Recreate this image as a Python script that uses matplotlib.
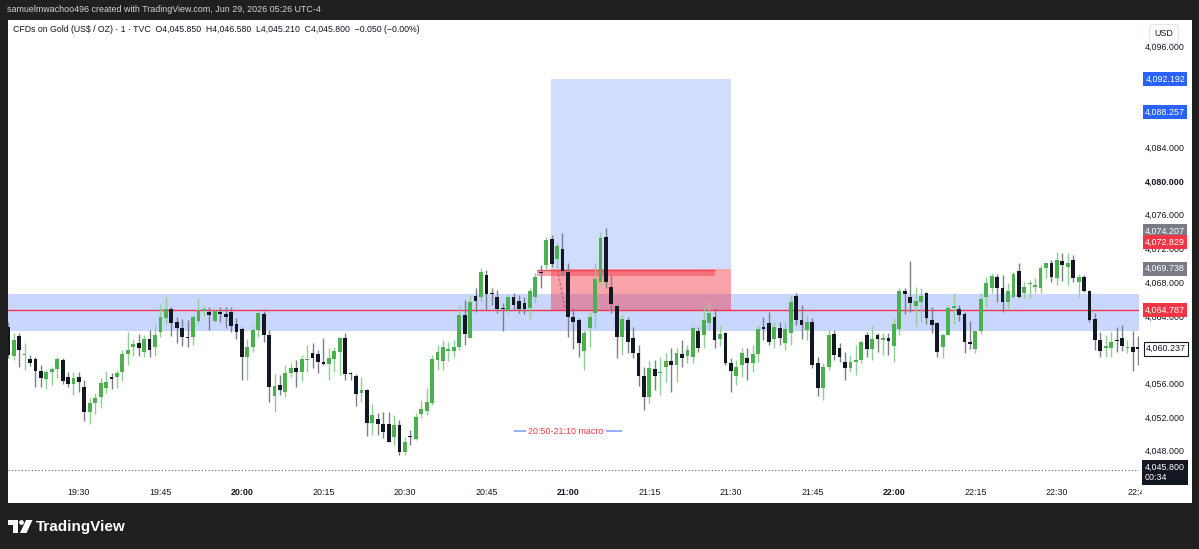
import matplotlib
matplotlib.use("Agg")
import matplotlib.pyplot as plt
from matplotlib.patches import Rectangle, Polygon, Circle
import numpy as np

plt.rcParams['font.family'] = ['Liberation Sans', 'DejaVu Sans']

W, H, DPI = 1199, 549, 100

# ---------------- data (1-minute candles starting 19:17) ----------------
start_hour, start_min = 19, 17
opens = [4062.8, 4059.4, 4061.7, 4059.5, 4059.0, 4059.0, 4057.6, 4056.6, 4057.5, 4057.8,
         4058.9, 4056.9, 4056.0, 4056.9, 4055.7, 4052.7, 4053.8, 4054.5, 4055.6, 4056.9,
         4056.9, 4057.5, 4059.6, 4060.4, 4060.9, 4059.8, 4061.4, 4060.4, 4062.2, 4063.9,
         4064.9, 4063.4, 4062.7, 4061.6, 4061.6, 4063.5, 4064.8, 4064.6, 4063.5, 4064.6,
         4064.3, 4064.6, 4063.2, 4062.6, 4059.2, 4060.4, 4062.4, 4064.3, 4061.8, 4054.6,
         4055.9, 4055.1, 4057.3, 4057.9, 4057.5, 4058.9, 4059.7, 4059.6, 4058.6, 4058.4,
         4059.0, 4059.8, 4061.5, 4057.3, 4057.0, 4055.0, 4055.3, 4051.4, 4051.9, 4051.3,
         4051.3, 4049.7, 4051.2, 4048.0, 4049.8, 4049.5, 4052.5, 4052.8, 4053.8, 4058.9,
         4058.8, 4060.0, 4059.9, 4060.4, 4064.2, 4061.5, 4066.5, 4066.4, 4069.0, 4066.8,
         4066.4, 4065.0, 4064.8, 4066.4, 4065.9, 4065.6, 4065.1, 4066.4, 4069.3, 4070.2,
         4073.2, 4070.9, 4072.0, 4069.3, 4064.0, 4063.6, 4059.9, 4062.7, 4064.5, 4068.1,
         4073.5, 4067.5, 4065.3, 4061.6, 4063.6, 4061.5, 4059.7, 4057.0, 4054.5, 4057.8,
         4057.3, 4058.1, 4058.8, 4058.3, 4059.6, 4059.4, 4059.2, 4062.3, 4061.9, 4063.3,
         4064.0, 4061.4, 4062.1, 4058.5, 4057.0, 4058.3, 4059.1, 4058.5, 4059.6, 4062.8,
         4063.3, 4061.4, 4062.7, 4060.9, 4062.1, 4066.5, 4063.6, 4062.4, 4063.4, 4058.5,
         4055.6, 4058.0, 4062.0, 4060.3, 4058.6, 4057.9, 4058.7, 4058.9, 4061.8, 4060.2,
         4061.8, 4061.3, 4061.5, 4060.5, 4062.6, 4067.1, 4066.4, 4065.3, 4065.8, 4066.8,
         4063.6, 4063.3, 4060.4, 4061.8, 4065.1, 4064.9, 4064.3, 4061.0, 4060.2, 4062.3,
         4066.4, 4067.4, 4068.7, 4067.4, 4065.8, 4066.4, 4069.4, 4066.8, 4067.9, 4067.6,
         4067.4, 4069.8, 4070.4, 4068.6, 4070.6, 4069.9, 4070.7, 4068.1, 4068.7, 4067.1,
         4063.7, 4061.3, 4060.3, 4060.3, 4061.2, 4061.5, 4060.3, 4060.4, 4060.4]
highs = [4063.4, 4062.1, 4062.1, 4060.9, 4059.5, 4059.2, 4058.3, 4057.7, 4058.1, 4059.2,
         4059.1, 4057.5, 4057.5, 4057.5, 4056.5, 4054.4, 4055.0, 4056.7, 4057.6, 4057.3,
         4057.7, 4060.1, 4062.2, 4061.4, 4062.0, 4061.8, 4062.4, 4063.0, 4065.5, 4066.4,
         4065.2, 4064.0, 4063.7, 4063.6, 4064.2, 4066.2, 4065.3, 4065.2, 4065.1, 4065.2,
         4065.2, 4065.2, 4063.9, 4062.8, 4061.4, 4062.9, 4064.6, 4064.7, 4062.4, 4057.2,
         4057.1, 4058.3, 4058.5, 4058.9, 4059.5, 4060.7, 4060.9, 4060.1, 4061.5, 4060.3,
         4060.4, 4061.6, 4062.1, 4057.5, 4057.2, 4056.9, 4055.5, 4053.7, 4052.6, 4052.7,
         4052.7, 4052.4, 4051.8, 4049.8, 4050.6, 4052.6, 4054.1, 4055.6, 4059.5, 4060.7,
         4061.3, 4061.0, 4061.3, 4065.4, 4066.0, 4066.6, 4067.4, 4069.8, 4069.6, 4067.4,
         4067.2, 4065.6, 4066.7, 4066.8, 4066.6, 4066.4, 4067.4, 4069.2, 4070.2, 4073.5,
         4073.7, 4072.8, 4074.0, 4070.4, 4065.1, 4063.9, 4062.4, 4064.6, 4070.4, 4074.1,
         4074.5, 4069.0, 4065.4, 4064.2, 4064.0, 4062.8, 4060.7, 4058.1, 4058.9, 4058.9,
         4059.2, 4059.7, 4060.3, 4060.3, 4061.3, 4060.7, 4062.9, 4062.8, 4065.2, 4066.0,
         4065.1, 4063.0, 4062.2, 4059.1, 4058.9, 4060.3, 4060.3, 4060.7, 4063.0, 4064.0,
         4064.6, 4063.4, 4063.4, 4063.4, 4066.6, 4066.8, 4065.4, 4064.2, 4063.9, 4059.3,
         4058.5, 4062.4, 4062.4, 4060.9, 4059.8, 4059.5, 4060.7, 4061.3, 4062.2, 4063.0,
         4062.1, 4062.1, 4062.1, 4063.9, 4067.4, 4067.4, 4070.6, 4067.5, 4067.4, 4066.9,
         4065.2, 4063.4, 4062.1, 4065.4, 4066.8, 4065.4, 4064.6, 4063.5, 4062.4, 4066.8,
         4068.7, 4069.2, 4069.1, 4069.0, 4068.0, 4069.3, 4070.4, 4068.1, 4068.4, 4068.6,
         4070.2, 4070.5, 4070.7, 4071.7, 4071.6, 4071.6, 4071.4, 4069.1, 4069.0, 4067.2,
         4064.5, 4062.2, 4061.8, 4062.2, 4062.8, 4063.0, 4061.3, 4062.3, 4061.7]
lows = [4059.1, 4058.9, 4058.1, 4057.7, 4058.2, 4055.7, 4055.7, 4055.4, 4055.9, 4056.8,
        4056.0, 4055.7, 4054.7, 4055.1, 4051.7, 4051.3, 4052.5, 4053.2, 4055.0, 4055.4,
        4055.6, 4056.4, 4058.3, 4059.4, 4059.4, 4059.2, 4059.2, 4059.4, 4061.6, 4063.2,
        4061.7, 4060.9, 4060.5, 4060.4, 4060.7, 4063.3, 4064.1, 4062.4, 4063.4, 4063.4,
        4062.7, 4062.2, 4061.4, 4056.5, 4056.5, 4059.8, 4061.6, 4061.0, 4053.9, 4052.7,
        4054.7, 4054.5, 4056.9, 4055.7, 4056.4, 4057.5, 4057.9, 4057.3, 4058.3, 4056.5,
        4057.5, 4057.1, 4056.5, 4056.5, 4053.4, 4053.9, 4049.9, 4050.0, 4050.0, 4049.6,
        4049.1, 4048.8, 4047.6, 4047.6, 4048.8, 4049.4, 4052.0, 4052.4, 4053.5, 4057.7,
        4057.7, 4058.8, 4059.2, 4060.1, 4060.7, 4061.5, 4064.6, 4065.8, 4064.8, 4065.4,
        4064.5, 4062.3, 4064.5, 4064.8, 4064.5, 4064.3, 4063.9, 4065.6, 4067.4, 4069.6,
        4069.9, 4069.6, 4069.0, 4061.6, 4060.2, 4059.2, 4057.7, 4060.4, 4062.7, 4067.8,
        4067.4, 4064.5, 4059.1, 4059.5, 4059.7, 4059.1, 4055.8, 4053.0, 4053.8, 4055.3,
        4054.7, 4056.3, 4055.1, 4056.3, 4058.0, 4058.5, 4058.5, 4059.8, 4060.3, 4062.4,
        4060.3, 4060.5, 4058.3, 4055.1, 4055.9, 4056.9, 4056.5, 4057.5, 4058.6, 4061.3,
        4060.7, 4060.3, 4060.7, 4060.1, 4060.7, 4063.0, 4061.4, 4061.3, 4057.9, 4054.6,
        4054.1, 4057.7, 4058.9, 4058.6, 4056.5, 4057.5, 4057.1, 4058.5, 4059.2, 4058.9,
        4059.8, 4059.5, 4059.5, 4058.6, 4061.8, 4064.3, 4064.6, 4062.9, 4063.4, 4063.2,
        4062.1, 4059.2, 4059.1, 4061.8, 4063.2, 4063.5, 4059.7, 4060.2, 4059.7, 4062.0,
        4065.2, 4066.8, 4065.8, 4064.6, 4064.9, 4066.2, 4066.2, 4066.2, 4066.2, 4066.8,
        4066.8, 4068.6, 4068.1, 4067.8, 4068.3, 4067.8, 4068.1, 4066.4, 4066.9, 4063.4,
        4060.1, 4059.2, 4059.2, 4059.2, 4059.8, 4060.0, 4059.7, 4057.6, 4058.3]
closes = [4059.5, 4061.3, 4060.1, 4059.6, 4058.5, 4057.6, 4056.7, 4057.5, 4057.8, 4059.0,
          4056.4, 4056.0, 4056.7, 4056.3, 4052.7, 4053.8, 4054.4, 4056.2, 4056.3, 4056.6,
          4057.3, 4059.6, 4060.1, 4060.8, 4060.3, 4061.4, 4060.1, 4061.8, 4064.0, 4064.9,
          4063.3, 4062.7, 4061.6, 4061.5, 4064.0, 4064.8, 4064.9, 4064.2, 4064.7, 4064.3,
          4064.0, 4062.9, 4062.2, 4059.2, 4060.4, 4062.4, 4064.5, 4061.8, 4055.7, 4055.8,
          4055.3, 4057.3, 4057.9, 4057.5, 4059.0, 4059.0, 4059.1, 4058.6, 4058.4, 4059.1,
          4060.0, 4061.5, 4057.2, 4057.2, 4054.9, 4055.3, 4051.4, 4052.4, 4051.3, 4050.3,
          4049.2, 4051.2, 4048.0, 4049.2, 4049.7, 4052.1, 4053.1, 4053.9, 4059.0, 4059.8,
          4060.4, 4060.1, 4060.4, 4064.2, 4062.0, 4065.8, 4065.9, 4069.3, 4066.7, 4066.7,
          4064.9, 4064.9, 4066.4, 4065.4, 4064.9, 4064.9, 4067.1, 4068.7, 4069.2, 4073.1,
          4070.3, 4072.4, 4069.4, 4064.0, 4063.4, 4060.9, 4062.1, 4064.0, 4068.5, 4073.4,
          4068.1, 4065.5, 4061.6, 4063.7, 4061.0, 4059.7, 4057.0, 4054.5, 4057.9, 4057.0,
          4057.4, 4058.8, 4058.3, 4059.7, 4059.1, 4060.1, 4062.7, 4060.3, 4063.6, 4064.5,
          4061.3, 4062.0, 4058.5, 4057.6, 4058.1, 4059.7, 4058.5, 4059.6, 4062.6, 4062.6,
          4061.0, 4062.8, 4061.5, 4062.6, 4065.8, 4063.6, 4063.0, 4063.4, 4058.3, 4055.6,
          4058.1, 4061.8, 4059.5, 4059.2, 4057.9, 4058.6, 4058.8, 4061.0, 4060.2, 4061.4,
          4061.4, 4061.4, 4061.1, 4063.2, 4067.1, 4066.7, 4065.6, 4065.9, 4066.5, 4063.9,
          4063.0, 4059.8, 4061.8, 4065.1, 4065.3, 4064.2, 4061.0, 4060.8, 4062.3, 4066.1,
          4068.0, 4068.8, 4067.4, 4065.8, 4067.1, 4069.1, 4066.4, 4067.5, 4068.0, 4067.8,
          4069.8, 4070.4, 4068.7, 4070.7, 4070.2, 4070.4, 4068.6, 4068.7, 4067.1, 4063.6,
          4061.3, 4059.9, 4060.5, 4061.0, 4061.1, 4060.6, 4060.4, 4059.8, 4060.237]

# drawings
band_low, band_high = 4062.33, 4066.75
hline_price = 4064.787
entry_price, target_price, stop_price = 4069.738, 4092.192, 4064.787
tool_start, tool_end = 99.9, 133.0          # minute index
marker_low, marker_high = 4068.9, 4069.6
marker_start, marker_end = 97.3, 130.0
macro_price = 4050.46
macro_start, macro_end = 93, 113          # 20:50 .. 21:10
last_price = 4045.8

price_ticks = [4048, 4052, 4056, 4064, 4068, 4072, 4076, 4080, 4084, 4096]
tag_labels = [(4092.192, '#2962ff'), (4088.257, '#2962ff'), (4074.207, '#787b86'),
              (4072.829, '#f23645'), (4069.738, '#787b86'), (4064.787, '#f23645')]
tick_minutes = list(range(13, 209, 15))

header = "samuelmwachoo496 created with TradingView.com, Jun 29, 2026 05:26 UTC-4"
legend = ("CFDs on Gold (US$ / OZ) \u00b7 1 \u00b7 TVC  O4,045.850  H4,046.580  "
          "L4,045.210  C4,045.800  \u22120.050 (\u22120.00%)")

# ---------------- layout helpers ----------------
def rect(x0, y0, x1, y1):
    return [x0 / W, 1 - y1 / H, (x1 - x0) / W, (y1 - y0) / H]

fig = plt.figure(figsize=(W / DPI, H / DPI), dpi=DPI, facecolor='#202020')
bg = fig.add_axes(rect(8, 20, 1192, 503), zorder=-5)
bg.set_facecolor('white')
bg.set_xticks([]); bg.set_yticks([])
for s in bg.spines.values():
    s.set_visible(False)

PX = 5.433
ymin, ymax = 4044.65, 4099.22
x_left = -0.055

ax = fig.add_axes(rect(8, 20, 1139, 480))
ax.set_xlim(x_left, x_left + (1139 - 8) / PX)
ax.set_ylim(ymin, ymax)
ax.axis('off')

# zones
ax.add_patch(Rectangle((x_left - 5, band_low), 400, band_high - band_low,
                       facecolor='#2962ff', alpha=0.25, edgecolor='none', zorder=1))
ax.add_patch(Rectangle((tool_start, entry_price), tool_end - tool_start,
                       target_price - entry_price, facecolor='#2962ff', alpha=0.21,
                       edgecolor='none', zorder=1))
ax.add_patch(Rectangle((tool_start, stop_price), tool_end - tool_start,
                       entry_price - stop_price, facecolor='#f23645', alpha=0.45,
                       edgecolor='none', zorder=1.5))
ax.add_patch(Rectangle((marker_start, marker_low), marker_end - marker_start,
                       marker_high - marker_low, facecolor='#f23645', alpha=0.45,
                       edgecolor='none', zorder=1.6))
ax.hlines(marker_high - 0.05, marker_start, marker_end, color='#f23645', lw=1.0,
          alpha=0.8, zorder=1.7)
ax.plot([tool_start + 1.2, tool_start + 2.6], [entry_price - 0.2, stop_price + 0.1],
        color='#c2185b', lw=0.8, ls=(0, (2, 2)), alpha=0.7, zorder=1.7)
ax.axhline(hline_price, color='#f23645', lw=1.0, zorder=2)
ax.axhline(last_price, color='#5d606b', lw=0.8, ls=(0, (1, 2)), zorder=2)

# macro label
ax.hlines(macro_price, macro_start, macro_end, color='#90b0f8', lw=1.4, zorder=2)
ax.text((macro_start + macro_end) / 2 - 0.4, macro_price, "20:50-21:10 macro",
        color='#f23645', fontsize=6.4, ha='center', va='center', zorder=3,
        bbox=dict(boxstyle='square,pad=0.25', fc='white', ec='none'))

# candles
o = np.array(opens); h = np.array(highs); l = np.array(lows); c = np.array(closes)
k = np.arange(len(o))
up = c >= o
lo = np.minimum(o, c)
bh = np.maximum(np.abs(c - o), 0.14)
ax.vlines(k[up], l[up], h[up], color='#8fcf93', lw=1.0, zorder=4)
ax.vlines(k[~up], l[~up], h[~up], color='#7c7f89', lw=1.0, zorder=4)
ax.bar(k[up], bh[up], bottom=lo[up], width=0.7, color='#4caf50', lw=0, zorder=5)
ax.bar(k[~up], bh[~up], bottom=lo[~up], width=0.7, color='#131722', lw=0, zorder=5)

# ---------------- price axis ----------------
pax = fig.add_axes(rect(1139, 20, 1192, 480))
pax.set_xlim(0, 53)
pax.set_ylim(ymin, ymax)
pax.axis('off')
for p in price_ticks:
    pax.text(46, p, f"{p:,.3f}", ha='right', va='center', fontsize=6.4,
             color='#131722', fontweight='bold' if p == 4080 else 'normal', zorder=2)
for p, col in tag_labels:
    pax.text(46, p, f"{p:,.3f}", ha='right', va='center', fontsize=6.4, color='white',
             zorder=5, bbox=dict(boxstyle='square,pad=0.28', fc=col, ec='none'))
pax.text(47, closes[-1], f"{closes[-1]:,.3f}", ha='right', va='center', fontsize=6.4,
         color='#131722', zorder=5,
         bbox=dict(boxstyle='square,pad=0.28', fc='white', ec='#131722', lw=0.8))
pax.text(46, last_price - 0.25, f"{last_price:,.3f}\n00:34", ha='right', va='center',
         fontsize=6.4, color='white', multialignment='left', linespacing=1.15, zorder=5,
         bbox=dict(boxstyle='square,pad=0.3', fc='#131722', ec='none'))
pax.text(0.47, 1 - 14 / 460, "USD", transform=pax.transAxes, ha='center', va='center',
         fontsize=6.4, color='#131722', zorder=6,
         bbox=dict(boxstyle='round,pad=0.55,rounding_size=0.3', fc='white',
                   ec='#e0e3eb', lw=0.8))

# ---------------- time axis ----------------
tax = fig.add_axes(rect(8, 480, 1142, 503))
tax.set_xlim(x_left, x_left + (1142 - 8) / PX)
tax.set_ylim(0, 1)
tax.axis('off')
for m in tick_minutes:
    tot = start_hour * 60 + start_min + m
    hh, mm = divmod(tot, 60)
    tax.text(m, 0.45, f"{hh}:{mm:02d}", ha='center', va='center', fontsize=6.4,
             color='#131722', fontweight='bold' if mm == 0 else 'normal', clip_on=True)

# ---------------- header / legend ----------------
fig.text(7 / W, 1 - 10 / H, header, color='#d1d4dc', fontsize=6.4, va='center')
fig.text(13 / W, 1 - 30 / H, legend, color='#131722', fontsize=6.3, va='center')

# ---------------- footer logo ----------------
lax = fig.add_axes(rect(0, 503, W, H))
lax.set_xlim(0, W)
lax.set_ylim(H, 503)
lax.axis('off')
lax.add_patch(Polygon([(8, 520), (18, 520), (18, 533), (13, 533), (13, 525), (8, 525)],
                      closed=True, fc='white', ec='none'))
lax.add_patch(Circle((21.5, 522.5), 2.4, fc='white', ec='none'))
lax.add_patch(Polygon([(26, 520), (32.5, 520), (26.5, 533), (20, 533)],
                      closed=True, fc='white', ec='none'))
lax.text(36, 526.5, "TradingView", color='white', fontsize=11, fontweight='bold',
         ha='left', va='center')

fig.savefig("out.png", dpi=DPI, facecolor=fig.get_facecolor())
